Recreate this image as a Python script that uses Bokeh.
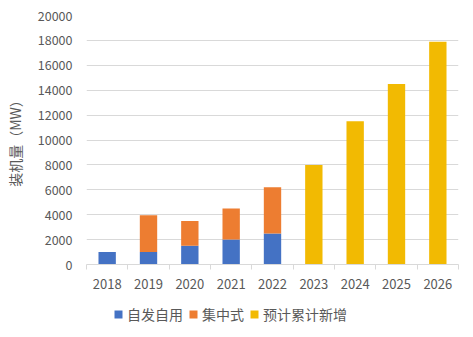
from bokeh.plotting import figure
from bokeh.layouts import column
from bokeh.models import ColumnDataSource, FixedTicker, Legend, LegendItem, Range1d
from bokeh.embed import file_html
from bokeh.resources import INLINE

years = ["2018", "2019", "2020", "2021", "2022", "2023", "2024", "2025", "2026"]
self_use = [1000, 1000, 1500, 2000, 2500, 0, 0, 0, 0]
centralized = [0, 2950, 2000, 2500, 3700, 0, 0, 0, 0]
forecast = [0, 0, 0, 0, 0, 8000, 11500, 14500, 17900]
y_ticks = [0, 2000, 4000, 6000, 8000, 10000, 12000, 14000, 16000, 18000, 20000]
series_names = ["自发自用", "集中式", "预计累计新增"]
series_colors = ["#4472C4", "#ED7D31", "#F2BA02"]

FONT = "Noto Sans CJK SC"
GREY = "#595959"

xs = [i + 0.5 for i in range(len(years))]
src = ColumnDataSource(dict(
    x=xs,
    self_use=self_use,
    cen_bottom=self_use,
    cen_top=[a + b for a, b in zip(self_use, centralized)],
    forecast=forecast,
))

p = figure(width=473, height=300, output_backend="svg", toolbar_location=None,
           x_range=Range1d(0, len(years)), y_range=Range1d(0, 20000),
           min_border_left=86, min_border_right=15, min_border_top=15, min_border_bottom=36)
p.outline_line_color = None
p.background_fill_color = "white"
p.border_fill_color = "white"

w = 0.42
p.vbar(x="x", top="self_use", bottom=0, width=w, source=src,
       fill_color=series_colors[0], line_color=None)
p.vbar(x="x", top="cen_top", bottom="cen_bottom", width=w, source=src,
       fill_color=series_colors[1], line_color=None)
p.vbar(x="x", top="forecast", bottom=0, width=w, source=src,
       fill_color=series_colors[2], line_color=None)

# x axis
xa = p.xaxis[0]
xa.ticker = FixedTicker(ticks=xs, minor_ticks=list(range(len(years) + 1)))
xa.major_label_overrides = {x: y for x, y in zip(xs, years)}
xa.major_tick_line_color = None
xa.minor_tick_line_color = "#d9d9d9"
xa.minor_tick_in = 0
xa.minor_tick_out = 5
xa.axis_line_color = "#d9d9d9"
xa.major_label_text_font = FONT
xa.major_label_text_font_size = "13px"
xa.major_label_text_color = GREY
xa.major_label_standoff = 8
p.xgrid.grid_line_color = None

# y axis
ya = p.yaxis[0]
ya.ticker = FixedTicker(ticks=y_ticks)
ya.axis_line_color = None
ya.major_tick_line_color = None
ya.minor_tick_line_color = None
ya.major_label_text_font = FONT
ya.major_label_text_font_size = "12.5px"
ya.major_label_text_color = GREY
ya.major_label_standoff = 8
ya.axis_label = "装机量（MW）"
ya.axis_label_text_font = FONT
ya.axis_label_text_font_size = "14px"
ya.axis_label_text_font_style = "normal"
ya.axis_label_text_color = GREY
ya.axis_label_standoff = 10
p.ygrid.grid_line_color = "#d9d9d9"
p.ygrid.grid_line_width = 1

# legend strip
lf = figure(width=473, height=37, output_backend="svg", toolbar_location=None,
            x_range=Range1d(0, 1), y_range=Range1d(0, 1),
            x_axis_type=None, y_axis_type=None, min_border=0)
lf.outline_line_color = None
lf.xgrid.grid_line_color = None
lf.ygrid.grid_line_color = None
items = []
for name, col in zip(series_names, series_colors):
    r = lf.vbar(x=[-5], top=[-5], bottom=[-6], width=0.1, fill_color=col, line_color=None)
    items.append(LegendItem(label=name, renderers=[r]))
legend = Legend(items=items, orientation="horizontal", location=(27, 13))
legend.label_text_font = FONT
legend.label_text_font_size = "14px"
legend.label_text_color = GREY
legend.glyph_width = 10
legend.glyph_height = 10
legend.spacing = 5
legend.label_standoff = 4
legend.padding = 0
legend.margin = 0
legend.border_line_color = None
legend.background_fill_alpha = 0
lf.add_layout(legend, "center")

layout = column(p, lf, spacing=0)
open("out.html", "w").write(file_html(layout, INLINE))
